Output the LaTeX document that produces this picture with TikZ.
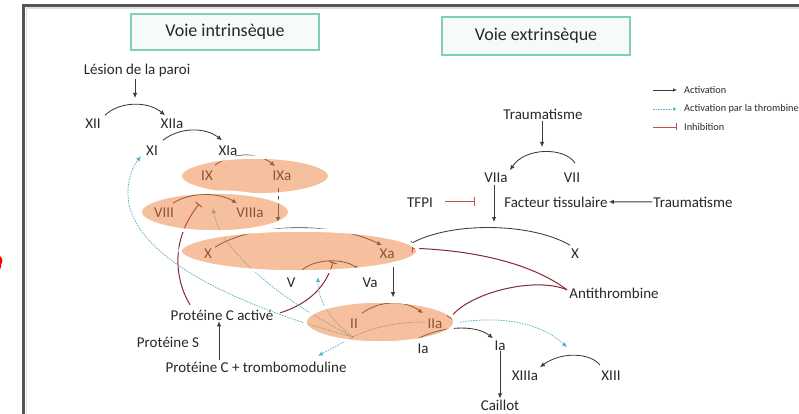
\documentclass[tikz,border=0pt]{standalone}
\usepackage{fontspec}
\setmainfont{Carlito}
\usetikzlibrary{arrows.meta,calc}
\definecolor{ink}{RGB}{40,40,40}
\definecolor{arrgray}{RGB}{60,60,60}
\definecolor{tealc}{RGB}{90,178,200}
\definecolor{maroonc}{RGB}{130,40,55}
\definecolor{redc}{RGB}{192,80,77}
\definecolor{ovl}{RGB}{239,129,63}
\definecolor{boxline}{RGB}{127,207,188}
\definecolor{boxfill}{RGB}{246,250,249}
\definecolor{framec}{RGB}{85,85,85}
\begin{document}
\begin{tikzpicture}[x=1pt,y=-1pt,
  lab/.style={font=\fontsize{15}{18}\selectfont, text=ink, inner sep=1pt, anchor=base},
  leg/.style={font=\fontsize{10.3}{12}\selectfont, text=ink, inner sep=1pt, anchor=west},
  title/.style={draw=boxline, fill=boxfill, line width=1.8pt, minimum width=188pt, font=\fontsize{18}{21}\selectfont, text=ink},
  arr/.style={draw=arrgray, line width=0.85pt, -{Latex[length=5pt,width=4.5pt]}},
  inh/.style={draw=maroonc, line width=1pt, -{Bar[width=8pt,line width=1pt]}},
  inhr/.style={draw=redc, line width=1pt, -{Bar[width=9pt,line width=1pt]}},
  thr/.style={draw=tealc, line width=0.75pt, dash pattern=on 1.6pt off 1.1pt, -{Latex[length=5pt,width=4.5pt]}},
  thrl/.style={draw=tealc, line width=0.75pt, dash pattern=on 1.6pt off 1.1pt},
  ovlstyle/.style={fill=ovl, fill opacity=0.5, draw=white, draw opacity=1, line width=3.5pt}
]
\useasboundingbox (0,0) rectangle (799,414);
\fill[white] (0,0) rectangle (799,414);
% frame
\draw[framec, line width=2.6pt] (23.5,5.3) rectangle (830,440);
\draw[gray!25, line width=1.2pt] (26.5,8) rectangle (830,440);
\draw[red, line width=2.2pt, line cap=round] (-2,256) .. controls (2,258) and (2,262) .. (0,264) .. controls (-1,266) and (1,268) .. (-1,269);

% titles
\node[title, minimum height=36pt] (tint) at (225,32) {Voie intrinsèque};
\node[title, minimum height=38pt] (text) at (536,36) {Voie extrinsèque};

% legend
\coordinate (la1) at (653,90); \coordinate (lb1) at (677,90);
\coordinate (la2) at (653,109); \coordinate (lb2) at (677,109);
\coordinate (la3) at (653,127); \coordinate (lb3) at (677,127);
\draw[draw=arrgray, line width=0.8pt, -{Latex[length=4pt,width=3.5pt]}] (la1) -- (lb1);
\draw[draw=tealc, line width=0.8pt, dash pattern=on 1.5pt off 1pt, -{Latex[length=4pt,width=3.5pt]}] (la2) -- (lb2);
\draw[draw=redc, line width=0.9pt, -{Bar[width=7pt,line width=0.9pt]}] (la3) -- (lb3);
\node[leg] (lg1) at (683,90) {Activation};
\node[leg] (lg2) at (683,109) {Activation par la thrombine};
\node[leg] (lg3) at (683,127) {Inhibition};

% labels
\node[lab] (les) at (137,75) {Lésion de la paroi};
\node[lab] (XII) at (93,129) {XII};
\node[lab] (XIIa) at (172,129) {XIIa};
\node[lab] (XI) at (152,155) {XI};
\node[lab] (XIa) at (228,155) {XIa};
\node[lab] (IX) at (207,180) {IX};
\node[lab] (IXa) at (282,180) {IXa};
\node[lab] (VIII) at (164,217) {VIII};
\node[lab] (VIIIa) at (250,217) {VIIIa};
\node[lab] (X) at (208,258) {X};
\node[lab] (Xa) at (387,258) {Xa};
\node[lab] (V) at (291,287) {V};
\node[lab] (Va) at (370,287) {Va};
\node[lab] (II) at (354,328) {II};
\node[lab] (IIa) at (435,328) {IIa};
\node[lab] (Iab) at (423,353) {Ia};
\node[lab] (Ia) at (500,350) {Ia};
\node[lab] (Caillot) at (500,410) {Caillot};
\node[lab] (PCa) at (222,320) {Protéine C activé};
\node[lab] (PS) at (168,347) {Protéine S};
\node[lab] (PCt) at (256,372) {Protéine C + trombomoduline};
\node[lab] (Tr1) at (543,120) {Traumatisme};
\node[lab] (VIIa) at (496,182) {VIIa};
\node[lab] (VII) at (572,182) {VII};
\node[lab] (TFPI) at (420,207) {TFPI};
\node[lab] (FT) at (556,207) {Facteur tissulaire};
\node[lab] (Tr2) at (693,207) {Traumatisme};
\node[lab] (Xr) at (575,258) {X};
\node[lab] (AT) at (614,298) {Antithrombine};
\node[lab] (XIIIa) at (525,380) {XIIIa};
\node[lab] (XIII) at (611,380) {XIII};

% helper coordinates
\coordinate (lesEnd) at (135,98);
\coordinate (trEnd) at (542,147);
\coordinate (vEnd) at (494,222);
\coordinate (px) at (219,0);
\coordinate (hub) at (353,337);
\coordinate (xiturn) at (128,195);

% activation arrows
\draw[arr] (les.south -| lesEnd) -- (lesEnd);
\draw[arr] ($(XII)+(12,-9)$) .. controls (120,101) and (148,101) .. ($(XIIa)+(-7,-9)$);
\draw[arr] ($(XI)+(11,-10)$) .. controls (180,127) and (205,127) .. ($(XIa)+(-6,-10)$);
\draw[arr] ($(IX)+(8,-10)$) .. controls (232,152) and (258,152) .. ($(IXa)+(-7,-9)$);
\draw[arr] ($(IXa)+(-4,13)$) -- ($(VIIIa)+(28,10)$);
\draw[arr] ($(VIII)+(9,-9)$) .. controls (190,192) and (218,192) .. ($(VIIIa)+(-13,-9)$);
\draw[arr] ($(X)+(7,-6)$) .. controls (255,222) and (335,222) .. ($(Xa)+(-5,-8)$);
\draw[arr] ($(Xa)+(6,14)$) -- ($(IIa)+(-42,-26)$);
\draw[arr] ($(V)+(9,-10)$) .. controls (312,258) and (345,258) .. ($(Va)+(-11,-12)$);
\draw[arr] ($(II)+(8,-10)$) .. controls (380,300) and (405,300) .. ($(IIa)+(-12,-10)$);
\draw[arr] ($(IIa)+(-20,17)$) .. controls (440,326) and (475,324) .. ($(Ia)+(-7,-7)$);
\draw[arr] (Ia.south) -- (Caillot.north);
\draw[arr] ($(XIII)+(-11,-10)$) .. controls (590,352) and (560,352) .. ($(XIIIa)+(15,-8)$);
\draw[arr] (Tr1.south -| trEnd) -- (trEnd);
\draw[arr] ($(VII)+(3,-14)$) .. controls (565,147) and (525,147) .. ($(VIIa)+(14,-7)$);
\draw[arr] ($(VIIa)+(-2,8)$) -- (vEnd);
\draw[arr] (Tr2.west) -- (FT.east);
\draw[arr] ($(Xr)+(-5,-8)$) .. controls (530,222) and (450,222) .. ($(Xa)+(21,-8)$);
\draw[arr] (PCt.north -| px) -- (PCa.south -| px);

% inhibitions
\draw[inhr] ($(TFPI)+(25,-1)$) -- ($(TFPI)+(55,-1)$);
\draw[inh] ($(AT)+(-47,-3)$) .. controls (530,262) and (470,250) .. ($(Xa)+(25,-5)$);
\draw[inh] ($(AT)+(-47,-3)$) .. controls (535,276) and (468,293) .. ($(IIa)+(15,-5)$);
\draw[inh] ($(PCa)+(-32,-10)$) .. controls (175,280) and (170,240) .. ($(VIII)+(35,-8)$);
\draw[inh] ($(PCa)+(58,-2)$) .. controls (305,305) and (325,290) .. ($(Va)+(-37,-20)$);

% thrombin activations
\draw[thrl] ($(IIa)+(-10,-1)$) .. controls (400,321) and (370,328) .. (hub);
\draw[thr] (hub) .. controls (250,310) and (130,260) .. (xiturn) .. controls (127,180) and (133,166) .. ($(XI)+(-11,6)$);
\draw[thr] (hub) .. controls (280,300) and (220,250) .. ($(VIII)+(49,-4)$);
\draw[thr] (hub) .. controls (330,320) and (318,300) .. ($(V)+(27,-5)$);
\draw[thr] (hub) -- ($(PCt)+(62,-11)$);
\draw[thr] ($(IIa)+(25,-1)$) .. controls (500,316) and (540,322) .. ($(XIIIa)+(42,-28)$);

% overlay ellipses
\path[ovlstyle] (255,176) ellipse [x radius=75, y radius=19];
\path[ovlstyle] (215,212) ellipse [x radius=75, y radius=20];
\path[ovlstyle] (299,251) ellipse [x radius=119, y radius=21];
\path[ovlstyle] (380,322) ellipse [x radius=75, y radius=21];
\end{tikzpicture}
\end{document}
